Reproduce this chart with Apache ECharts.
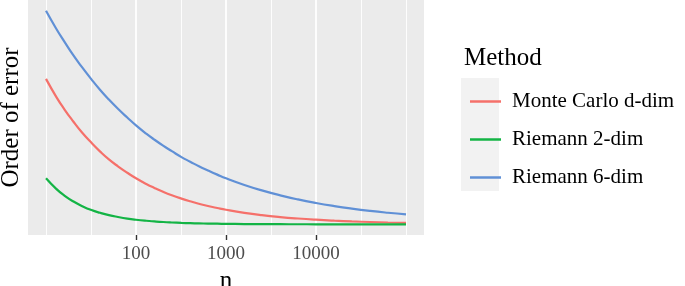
<!DOCTYPE html>
<html>
<head>
<meta charset="utf-8">
<script src="https://cdn.jsdelivr.net/npm/echarts@6/dist/echarts.min.js"></script>
<style>html,body{margin:0;padding:0;background:#fff;}#c{width:685px;height:286px;}</style>
</head>
<body>
<div id="c"></div>
<script>
// sample sizes n
const nValues = [10, 13, 16, 20, 25, 32, 40, 50, 63, 80, 100, 130, 160, 200, 250, 320, 400, 500, 630, 800,
  1000, 1600, 2500, 4000, 6300, 10000, 16000, 25000, 40000, 63000, 100000];
// order of error
const monteCarlo = [0.316, 0.277, 0.250, 0.224, 0.200, 0.177, 0.158, 0.141, 0.126, 0.112, 0.100, 0.0877, 0.0791, 0.0707, 0.0632, 0.0559, 0.0500, 0.0447, 0.0398, 0.0354,
  0.0316, 0.0250, 0.0200, 0.0158, 0.0126, 0.0100, 0.0079, 0.0063, 0.0050, 0.0040, 0.0032];
const riemann2 = [0.100, 0.077, 0.0625, 0.050, 0.040, 0.031, 0.025, 0.020, 0.016, 0.0125, 0.010, 0.0077, 0.0063, 0.005, 0.004, 0.0031, 0.0025, 0.002, 0.0016, 0.0013,
  0.001, 0.0006, 0.0004, 0.00025, 0.00016, 0.0001, 0.00006, 0.00004, 0.000025, 0.000016, 0.00001];
const riemann6 = [0.464, 0.425, 0.397, 0.368, 0.342, 0.315, 0.292, 0.271, 0.251, 0.232, 0.215, 0.197, 0.184, 0.171, 0.159, 0.146, 0.136, 0.126, 0.117, 0.108,
  0.100, 0.0855, 0.0737, 0.0630, 0.0541, 0.0464, 0.0397, 0.0342, 0.0292, 0.0251, 0.0215];
const seriesNames = ['Monte Carlo d-dim', 'Riemann 2-dim', 'Riemann 6-dim'];
const xTickLabels = [100, 1000, 10000];
const majorGrid = [100, 1000, 10000];
const minorGrid = [10, 31.62, 316.2, 3162, 31623, 100000];

const colors = ['#F5706A', '#13B445', '#6090D6'];
const serif = '"Liberation Serif", "DejaVu Serif", serif';

function pairs(ys) { return nValues.map((n, i) => [n, ys[i]]); }

const chart = echarts.init(document.getElementById('c'), null, {renderer: 'canvas'});
const gridMarks = majorGrid.map(v => ({xAxis: v, lineStyle: {color: '#fff', width: 1.8, type: 'solid'}}))
  .concat(minorGrid.map(v => ({xAxis: v, lineStyle: {color: '#fff', width: 0.9, type: 'solid'}})));

chart.setOption({
  animation: false,
  title: {
    text: 'Method', left: 459, top: 41,
    textStyle: {fontFamily: serif, fontSize: 25, fontWeight: 'normal', color: '#000'}
  },
  grid: {left: 28, right: 261, top: 0, bottom: 51, show: true, backgroundColor: '#EBEBEB', borderWidth: 0,
         containLabel: false, outerBoundsMode: 'none'},
  xAxis: {
    type: 'log', logBase: 10, min: 6.31, max: 158489,
    name: 'n', nameLocation: 'middle', nameGap: 23,
    nameTextStyle: {fontFamily: serif, fontSize: 25, color: '#000'},
    axisLine: {show: false, onZero: false},
    axisTick: {show: true, length: 5, lineStyle: {color: '#333', width: 1.4}, customValues: xTickLabels},
    axisLabel: {
      customValues: xTickLabels, margin: 10,
      fontFamily: serif, fontSize: 19, color: '#4D4D4D',
      formatter: v => String(Math.round(v))
    },
    splitLine: {show: false}, minorSplitLine: {show: false}
  },
  yAxis: {
    type: 'value', min: -0.0232, max: 0.4874,
    name: 'Order of error', nameLocation: 'middle', nameGap: 4, nameRotate: 90,
    nameTextStyle: {fontFamily: serif, fontSize: 25, color: '#000'},
    axisLine: {show: false}, axisTick: {show: false}, axisLabel: {show: false}, splitLine: {show: false}
  },
  legend: {
    orient: 'vertical', left: 465, top: 86,
    data: seriesNames.map(n => ({name: n, icon: 'rect'})),
    itemWidth: 31, itemHeight: 2.5, itemGap: 17,
    textStyle: {fontFamily: serif, fontSize: 21, color: '#000', lineHeight: 21, padding: [0, 0, 0, 6]}
  },
  graphic: [{
    type: 'rect', left: 461, top: 78, z: -1,
    shape: {width: 38, height: 113}, style: {fill: '#F2F2F2'}
  }],
  series: [
    {type: 'line', name: '_grid', data: [], z: 1, silent: true,
     markLine: {silent: true, z: 1, symbol: ['none', 'none'], label: {show: false}, data: gridMarks, animation: false}},
    {type: 'line', name: seriesNames[0], data: pairs(monteCarlo), showSymbol: false, smooth: true, z: 3,
     lineStyle: {color: colors[0], width: 2.2}, itemStyle: {color: colors[0]}},
    {type: 'line', name: seriesNames[1], data: pairs(riemann2), showSymbol: false, smooth: true, z: 3,
     lineStyle: {color: colors[1], width: 2.2}, itemStyle: {color: colors[1]}},
    {type: 'line', name: seriesNames[2], data: pairs(riemann6), showSymbol: false, smooth: true, z: 3,
     lineStyle: {color: colors[2], width: 2.2}, itemStyle: {color: colors[2]}}
  ]
});
</script>
</body>
</html>
